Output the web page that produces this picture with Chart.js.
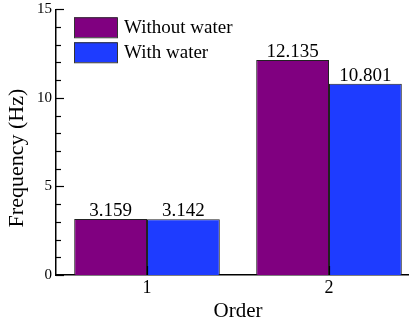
<!DOCTYPE html>
<html>
<head>
<meta charset="utf-8">
<script src="https://cdn.jsdelivr.net/npm/chart.js@4/dist/chart.umd.min.js"></script>
<style>
  html, body { margin: 0; padding: 0; background: #fff; overflow: hidden; }
  #wrap { width: 420px; height: 320px; }
</style>
</head>
<body>
<div id="wrap"><canvas id="chart" width="420" height="320"></canvas></div>
<script>
const orders = ['1', '2'];
const withoutWater = [3.159, 12.135];
const withWater = [3.142, 10.801];
const seriesNames = ['Without water', 'With water'];
const yTickValues = [0, 5, 10, 15];
const yTitle = 'Frequency (Hz)';

const serif = 'Liberation Serif';
Chart.defaults.font.family = serif;
Chart.defaults.color = '#000';

// value labels above each bar
const barLabels = {
  id: 'barLabels',
  afterDatasetsDraw(chart) {
    const ctx = chart.ctx;
    ctx.save();
    ctx.font = '19px ' + serif;
    ctx.fillStyle = '#000';
    ctx.textAlign = 'center';
    ctx.textBaseline = 'alphabetic';
    chart.data.datasets.forEach((ds, di) => {
      chart.getDatasetMeta(di).data.forEach((bar, i) => {
        ctx.fillText(ds.data[i].toFixed(3), bar.x, bar.y - 3);
      });
    });
    ctx.restore();
  }
};

// tick marks pointing into the plot, y title, and the legend box in the corner
const insideTicks = {
  id: 'insideTicks',
  afterDraw(chart) {
    const ctx = chart.ctx;
    const x = chart.scales.x, y = chart.scales.y;
    const area = chart.chartArea;
    ctx.save();
    ctx.strokeStyle = '#000';
    ctx.lineWidth = 1.2;
    y.ticks.forEach(t => {
      const py = Math.round(y.getPixelForValue(t.value)) + 0.5;
      const len = yTickValues.includes(t.value) ? 8 : 5;
      ctx.beginPath();
      ctx.moveTo(area.left, py);
      ctx.lineTo(area.left + len, py);
      ctx.stroke();
    });
    x.ticks.forEach((t, i) => {
      const px = Math.round(x.getPixelForTick(i)) + 0.5;
      ctx.beginPath();
      ctx.moveTo(px, area.bottom);
      ctx.lineTo(px, area.bottom - 9);
      ctx.stroke();
    });

    // y axis title, sitting a bit below the middle like the original
    ctx.save();
    ctx.translate(17, y.getPixelForValue(6.6));
    ctx.rotate(-Math.PI / 2);
    ctx.font = '22px ' + serif;
    ctx.fillStyle = '#000';
    ctx.textAlign = 'center';
    ctx.textBaseline = 'middle';
    ctx.fillText(yTitle, 0, 0);
    ctx.restore();

    // legend
    ctx.font = '19px ' + serif;
    ctx.textBaseline = 'middle';
    ctx.textAlign = 'left';
    chart.data.datasets.forEach((ds, i) => {
      const bx = area.left + 18, by = area.top + 8 + i * 25;
      ctx.fillStyle = ds.backgroundColor;
      ctx.fillRect(bx, by, 43, 20);
      ctx.strokeStyle = '#333';
      ctx.lineWidth = 1;
      ctx.strokeRect(bx + 0.5, by + 0.5, 43, 20);
      ctx.fillStyle = '#000';
      ctx.fillText(ds.label, bx + 50, by + 11);
    });
    ctx.restore();
  }
};

new Chart(document.getElementById('chart'), {
  type: 'bar',
  data: {
    labels: orders,
    datasets: [
      {
        label: seriesNames[0],
        data: withoutWater,
        backgroundColor: '#800080',
        borderColor: '#222',
        borderWidth: 1
      },
      {
        label: seriesNames[1],
        data: withWater,
        backgroundColor: '#1e3cff',
        borderColor: '#222',
        borderWidth: 1
      }
    ]
  },
  options: {
    responsive: false,
    animation: false,
    devicePixelRatio: 1,
    categoryPercentage: 0.8,
    barPercentage: 1.0,
    layout: { padding: { left: 33, top: 0, right: 0, bottom: -2 } },
    plugins: {
      legend: { display: false },
      tooltip: { enabled: false }
    },
    scales: {
      x: {
        grid: { display: false, drawTicks: false },
        border: { display: true, color: '#000', width: 1.5 },
        ticks: { font: { size: 18, lineHeight: 1.0 }, color: '#000', padding: 4 },
        title: {
          display: true,
          text: 'Order',
          font: { size: 21, lineHeight: 1.0 },
          padding: { top: 0, bottom: 0 }
        }
      },
      y: {
        min: 0,
        max: 15,
        grid: { display: false, drawTicks: false },
        border: { display: true, color: '#000', width: 1.5 },
        ticks: {
          stepSize: 1,
          font: { size: 15, lineHeight: 0.7 },
          color: '#000',
          padding: 4,
          autoSkip: false,
          callback: v => (yTickValues.includes(v) ? v : '')
        },
        title: { display: false }
      }
    }
  },
  plugins: [barLabels, insideTicks]
});
</script>
</body>
</html>
